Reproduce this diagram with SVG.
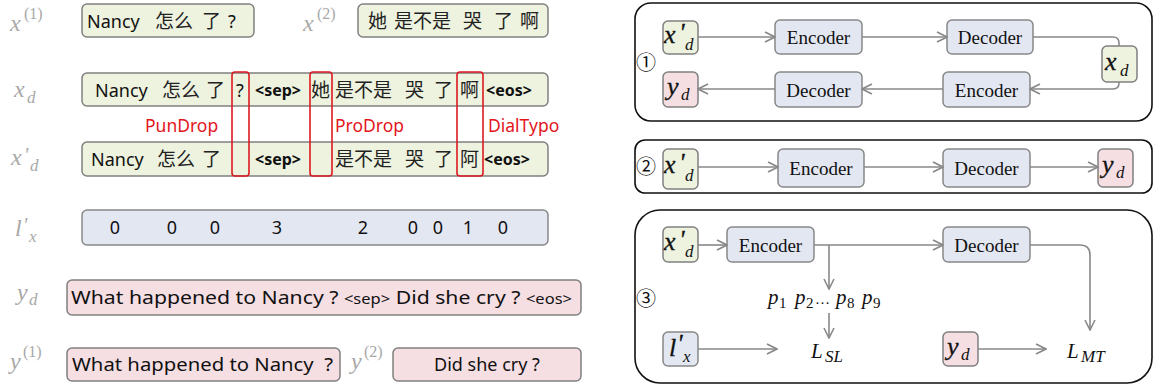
<svg xmlns="http://www.w3.org/2000/svg" width="1156" height="387" viewBox="0 0 1156 387">
<style>
.bg{fill:#fff}
.gbox{fill:#eef3df;stroke:#808080;stroke-width:1.5}
.bbox{fill:#e3e7f2;stroke:#888;stroke-width:1.5}
.pbox{fill:#f5dfe3;stroke:#808080;stroke-width:1.5}
.red{fill:none;stroke:#dc1a22;stroke-width:1.6}
.panel{fill:none;stroke:#111;stroke-width:1.6}
.t{font-family:"Noto Sans","Noto Sans CJK SC",sans-serif;font-size:18px;fill:#111}
.cj{font-family:"Noto Sans CJK SC",sans-serif;font-size:19px;fill:#222}
.tag{font-family:"Noto Sans",sans-serif;font-size:16px;font-weight:bold;fill:#111}
.rl{font-family:"Noto Sans",sans-serif;font-size:17.5px;fill:#e3161e}
.dg{font-family:"Noto Sans",sans-serif;font-size:18px;fill:#111;text-anchor:middle}
.ml{font-family:"Liberation Serif",serif;font-style:italic;font-size:24px;fill:#a8a8a8}
.ms{font-family:"Liberation Serif",serif;font-size:16px;fill:#a8a8a8}
.mi{font-family:"Liberation Serif",serif;font-style:italic;fill:#a8a8a8}
.m{font-family:"Liberation Serif",serif;font-style:italic;font-size:26px;fill:#111;stroke:#111;stroke-width:0.3}
.mt{font-family:"Liberation Serif",serif;font-style:italic;font-size:21px;fill:#111}
.msub{font-family:"Liberation Serif",serif;font-style:italic;font-size:17px;fill:#111}
.num{font-family:"Liberation Serif",serif;font-size:15px;fill:#111}
.ed{font-family:"Liberation Serif",serif;font-size:19px;fill:#111;text-anchor:middle}
.cn{font-family:"Noto Sans CJK SC",sans-serif;font-size:20px;fill:#111;text-anchor:middle}
.c{fill:none;stroke:#888;stroke-width:1.6}
</style>
<defs>
<marker id="ah" viewBox="0 0 12 12" refX="11" refY="6" markerWidth="12" markerHeight="12" markerUnits="userSpaceOnUse" orient="auto">
<path d="M1,1 L11,6 L1,11" fill="none" stroke="#888" stroke-width="1.6"/>
</marker>
</defs>
<rect class="bg" x="0" y="0" width="1156" height="387"/>

<!-- left math labels -->
<g id="labels">
<text class="ml" x="10" y="31">x</text><text class="ms" x="24" y="19">(1)</text>
<text class="ml" x="303" y="31">x</text><text class="ms" x="317" y="19">(2)</text>
<text class="ml" x="14" y="97">x</text><text class="mi" x="27" y="103" font-size="17">d</text>
<text class="ml" x="11" y="165">x</text><text class="mi" x="24" y="162" font-size="20">'</text><text class="mi" x="30" y="171" font-size="17">d</text>
<text class="ml" x="15" y="236">l</text><text class="mi" x="23" y="232" font-size="20">'</text><text class="mi" x="29" y="242" font-size="17">x</text>
<text class="ml" x="17" y="300">y</text><text class="mi" x="29" y="305" font-size="17">d</text>
<text class="ml" x="10" y="369">y</text><text class="ms" x="23" y="357">(1)</text>
<text class="ml" x="351" y="369">y</text><text class="ms" x="364" y="357">(2)</text>
</g>

<g id="x1">
<rect class="gbox" x="82" y="4" width="172" height="33" rx="5"/>
<text class="t" x="87" y="28">Nancy</text><text class="cj" x="155" y="28">怎么</text><text class="cj" x="202" y="28">了</text><text class="t" x="228" y="28">?</text>
</g>
<g id="x2">
<rect class="gbox" x="358" y="4" width="190" height="33" rx="5"/>
<text class="cj" x="368" y="28">她</text><text class="cj" x="394" y="28">是不是</text><text class="cj" x="463" y="28">哭</text><text class="cj" x="494" y="28">了</text><text class="cj" x="520" y="28">啊</text>
</g>

<g id="xd">
<rect class="gbox" x="82" y="73" width="466" height="33" rx="5"/>
<text class="t" x="95" y="97">Nancy</text><text class="cj" x="162" y="97">怎么</text><text class="cj" x="206" y="97">了</text><text class="t" x="236" y="97">?</text>
<text class="tag" x="255" y="96">&lt;sep&gt;</text>
<text class="cj" x="311" y="97">她</text><text class="cj" x="335" y="97">是不是</text><text class="cj" x="405" y="97">哭</text><text class="cj" x="434" y="97">了</text><text class="cj" x="460" y="97">啊</text>
<text class="tag" x="486" y="96">&lt;eos&gt;</text>
</g>

<g id="xpd">
<rect class="gbox" x="82" y="142" width="466" height="34" rx="5"/>
<text class="t" x="91" y="166">Nancy</text><text class="cj" x="157" y="166">怎么</text><text class="cj" x="202" y="166">了</text>
<text class="tag" x="255" y="165">&lt;sep&gt;</text>
<text class="cj" x="335" y="166">是不是</text><text class="cj" x="405" y="166">哭</text><text class="cj" x="434" y="166">了</text><text class="cj" x="460" y="166">阿</text>
<text class="tag" x="484" y="165">&lt;eos&gt;</text>
</g>

<g id="redmarks">
<rect class="red" x="232" y="72" width="17" height="104" rx="3"/>
<rect class="red" x="310" y="72" width="22" height="104" rx="3"/>
<rect class="red" x="457" y="72" width="26" height="104" rx="3"/>
<text class="rl" x="145" y="132">PunDrop</text>
<text class="rl" x="335" y="132">ProDrop</text>
<text class="rl" x="488" y="132">DialTypo</text>
</g>

<g id="lx">
<rect class="bbox" x="82" y="210" width="466" height="35" rx="5"/>
<text class="dg" x="115" y="234">0</text><text class="dg" x="172" y="234">0</text><text class="dg" x="215" y="234">0</text><text class="dg" x="277" y="234">3</text>
<text class="dg" x="363" y="234">2</text><text class="dg" x="413" y="234">0</text><text class="dg" x="438" y="234">0</text><text class="dg" x="468" y="234">1</text><text class="dg" x="503" y="234">0</text>
</g>

<g id="yd">
<rect class="pbox" x="67" y="280" width="514" height="35" rx="5"/>
<text class="t" x="71" y="304" textLength="501" lengthAdjust="spacingAndGlyphs">What happened to Nancy ? <tspan font-size="14">&lt;sep&gt;</tspan> Did she cry ? <tspan font-size="14">&lt;eos&gt;</tspan></text>
</g>
<g id="y1">
<rect class="pbox" x="67" y="348" width="273" height="33" rx="5"/>
<text class="t" x="72" y="371" textLength="261" lengthAdjust="spacingAndGlyphs" xml:space="preserve">What happened to Nancy  ?</text>
</g>
<g id="y2">
<rect class="pbox" x="393" y="348" width="188" height="33" rx="5"/>
<text class="t" x="487" y="371" text-anchor="middle">Did she cry ?</text>
</g>

<!-- panels -->
<g id="panel1">
<rect class="panel" x="635" y="3" width="517" height="118" rx="16"/>
<text class="cn" x="646" y="70">①</text>
</g>
<g id="panel2">
<rect class="panel" x="635" y="140" width="517" height="53" rx="10"/>
<text class="cn" x="646" y="174">②</text>
</g>
<g id="panel3">
<rect class="panel" x="635" y="210" width="517" height="173" rx="25"/>
<text class="cn" x="646" y="306">③</text>
</g>

<!-- panel 1 nodes -->
<g id="p1-xpd"><rect class="gbox" x="663" y="21" width="35" height="33" rx="5"/><text class="m" x="664" y="43">x</text><text class="m" x="679" y="41" font-size="18">'</text><text class="msub" x="685" y="50">d</text></g>
<g id="p1-enc1"><rect class="bbox" x="775" y="20" width="87" height="34" rx="5"/><text class="ed" x="818.5" y="44">Encoder</text></g>
<g id="p1-dec1"><rect class="bbox" x="947" y="20" width="86" height="34" rx="5"/><text class="ed" x="990" y="44">Decoder</text></g>
<g id="p1-xd"><rect class="gbox" x="1102" y="46" width="35" height="36" rx="5"/><text class="m" x="1105" y="70">x</text><text class="msub" x="1120" y="76">d</text></g>
<g id="p1-enc2"><rect class="bbox" x="943" y="72" width="87" height="35" rx="5"/><text class="ed" x="986.5" y="97">Encoder</text></g>
<g id="p1-dec2"><rect class="bbox" x="775" y="72" width="87" height="35" rx="5"/><text class="ed" x="818.5" y="97">Decoder</text></g>
<g id="p1-yd"><rect class="pbox" x="663" y="72" width="35" height="35" rx="5"/><text class="m" x="667" y="95">y</text><text class="msub" x="681" y="100">d</text></g>

<!-- panel 2 nodes -->
<g id="p2-xpd"><rect class="gbox" x="663" y="149" width="35" height="40" rx="5"/><text class="m" x="664" y="173">x</text><text class="m" x="679" y="171" font-size="18">'</text><text class="msub" x="685" y="181">d</text></g>
<g id="p2-enc"><rect class="bbox" x="778" y="149" width="86" height="38" rx="5"/><text class="ed" x="821" y="175">Encoder</text></g>
<g id="p2-dec"><rect class="bbox" x="943" y="149" width="87" height="38" rx="5"/><text class="ed" x="986.5" y="175">Decoder</text></g>
<g id="p2-yd"><rect class="pbox" x="1098" y="149" width="35" height="38" rx="5"/><text class="m" x="1102" y="173">y</text><text class="msub" x="1116" y="178">d</text></g>

<!-- panel 3 nodes -->
<g id="p3-xpd"><rect class="gbox" x="663" y="227" width="35" height="35" rx="5"/><text class="m" x="664" y="250">x</text><text class="m" x="679" y="248" font-size="18">'</text><text class="msub" x="685" y="257">d</text></g>
<g id="p3-enc"><rect class="bbox" x="727" y="227" width="87" height="35" rx="5"/><text class="ed" x="770.5" y="252">Encoder</text></g>
<g id="p3-dec"><rect class="bbox" x="943" y="227" width="87" height="35" rx="5"/><text class="ed" x="986.5" y="252">Decoder</text></g>
<g id="p3-p"><text class="mt" x="768" y="304">p</text><text class="num" x="779" y="308">1</text><text class="mt" x="795" y="304">p</text><text class="num" x="806" y="308">2</text><text class="num" x="815" y="304" font-size="18">…</text><text class="mt" x="836" y="304">p</text><text class="num" x="847" y="308">8</text><text class="mt" x="862" y="304">p</text><text class="num" x="873" y="308">9</text></g>
<g id="p3-lx"><rect class="bbox" x="663" y="332" width="35" height="34" rx="5"/><text class="m" x="669" y="356">l</text><text class="m" x="677" y="352" font-size="18">'</text><text class="msub" x="683" y="362">x</text></g>
<g id="p3-lsl"><text class="mt" x="811" y="358">L</text><text class="msub" x="825" y="362" font-size="13">SL</text></g>
<g id="p3-yd"><rect class="pbox" x="943" y="332" width="35" height="34" rx="5"/><text class="m" x="947" y="355">y</text><text class="msub" x="961" y="360">d</text></g>
<g id="p3-lmt"><text class="mt" x="1067" y="358">L</text><text class="msub" x="1081" y="362" font-size="13">MT</text></g>

<g id="connectors">
<path class="c" d="M698,37 H775" marker-end="url(#ah)"/>
<path class="c" d="M862,37 H947" marker-end="url(#ah)"/>
<path class="c" d="M1033,37 H1113 Q1119,37 1119,43 V46"/>
<path class="c" d="M1119,82 V83 Q1119,89 1113,89 H1030" marker-end="url(#ah)"/>
<path class="c" d="M943,89 H862" marker-end="url(#ah)"/>
<path class="c" d="M775,89 H698" marker-end="url(#ah)"/>

<path class="c" d="M698,167 H778" marker-end="url(#ah)"/>
<path class="c" d="M864,167 H943" marker-end="url(#ah)"/>
<path class="c" d="M1030,167 H1098" marker-end="url(#ah)"/>

<path class="c" d="M698,245 H727" marker-end="url(#ah)"/>
<path class="c" d="M814,245 H943" marker-end="url(#ah)"/>
<path class="c" d="M829,245 V289" marker-end="url(#ah)"/>
<path class="c" d="M829,313 V338" marker-end="url(#ah)"/>
<path class="c" d="M1030,245 H1080 Q1090,245 1090,255 V330" marker-end="url(#ah)"/>
<path class="c" d="M698,349 H777" marker-end="url(#ah)"/>
<path class="c" d="M978,349 H1046" marker-end="url(#ah)"/>
</g>
</svg>
